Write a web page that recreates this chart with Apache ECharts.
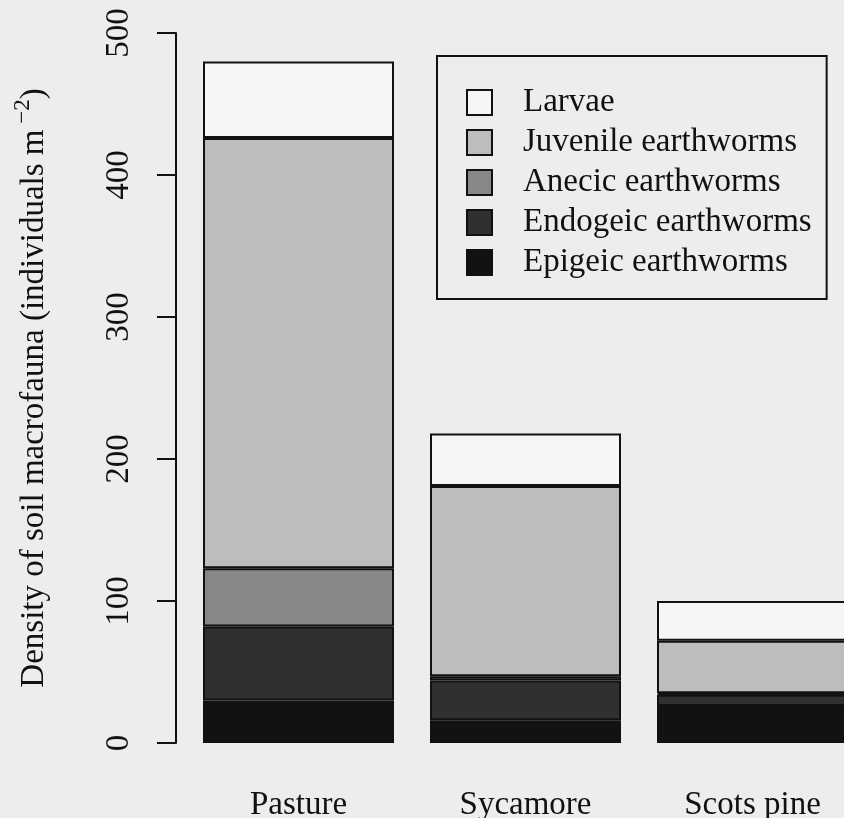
<!DOCTYPE html>
<html>
<head>
<meta charset="utf-8">
<title>Soil macrofauna density</title>
<script src="https://cdn.jsdelivr.net/npm/echarts@6/dist/echarts.min.js"></script>
<style>
  html, body { margin: 0; padding: 0; background: #ededed; }
  #chart { width: 844px; height: 818px; }
</style>
</head>
<body>
<div id="chart"></div>
<script>
// Land-use categories along the x axis
const categories = ['Pasture', 'Sycamore', 'Scots pine'];

// Density of each group (individuals per m²), stacked bottom to top
const epigeic   = [30, 16, 26];
const endogeic  = [52, 28, 8];
const anecic    = [41, 3, 1];
const juvenile  = [303, 134, 37];
const larvae    = [54, 37, 28];

const yTicks = [0, 100, 200, 300, 400, 500];

const FONT = '"Liberation Serif", "Times New Roman", Times, serif';
const INK = '#111111';

const groups = [
  { name: 'Epigeic earthworms',  data: epigeic,  color: '#121212' },
  { name: 'Endogeic earthworms', data: endogeic, color: '#303030' },
  { name: 'Anecic earthworms',   data: anecic,   color: '#878787' },
  { name: 'Juvenile earthworms', data: juvenile, color: '#bdbdbd' },
  { name: 'Larvae',              data: larvae,   color: '#f6f6f6' }
];

const chart = echarts.init(document.getElementById('chart'), null, { renderer: 'canvas' });

chart.setOption({
  animation: false,
  backgroundColor: '#ededed',
  textStyle: { fontFamily: FONT, color: INK },
  grid: {
    left: 185, top: 33, width: 681, height: 710,
    containLabel: false, outerBoundsMode: 'none'
  },
  legend: {
    orient: 'vertical',
    left: 437, top: 56,
    data: groups.map(g => g.name).reverse(),
    icon: 'rect',
    itemWidth: 25, itemHeight: 25,
    itemGap: 7,
    padding: [30, 15, 20, 29],
    borderColor: INK, borderWidth: 2,
    backgroundColor: 'transparent',
    selectedMode: false,
    itemStyle: { borderColor: INK, borderWidth: 2 },
    textStyle: {
      fontFamily: FONT, fontSize: 33, color: INK,
      lineHeight: 33, padding: [0, 0, 0, 26]
    }
  },
  xAxis: {
    type: 'category',
    data: categories,
    boundaryGap: true,
    axisLine: { show: false },
    axisTick: { show: false },
    axisLabel: { fontFamily: FONT, fontSize: 33, color: INK, margin: 46, interval: 0 }
  },
  yAxis: {
    type: 'value',
    min: yTicks[0], max: yTicks[yTicks.length - 1], interval: 100,
    offset: 9,
    splitLine: { show: false },
    axisLine: { show: true, lineStyle: { color: INK, width: 2 } },
    axisTick: { show: true, inside: false, length: 19, lineStyle: { color: INK, width: 2 } },
    axisLabel: {
      fontFamily: FONT, fontSize: 33, color: INK, rotate: 90, margin: 40,
      formatter: v => (yTicks.indexOf(v) >= 0 ? String(v) : '')
    },
    name: '{t|Density of soil macrofauna (individuals m}{s| −2}{t|)}',
    nameLocation: 'middle',
    nameRotate: 90,
    nameGap: 125,
    nameMoveOverlap: false,
    nameTextStyle: {
      fontFamily: FONT, color: INK,
      rich: {
        t: { fontFamily: FONT, fontSize: 33, color: INK, lineHeight: 40, verticalAlign: 'bottom' },
        s: { fontFamily: FONT, fontSize: 23, color: INK, lineHeight: 40, verticalAlign: 'top' }
      }
    }
  },
  series: groups.map(g => ({
    name: g.name,
    type: 'bar',
    stack: 'total',
    data: g.data,
    barWidth: 191,
    itemStyle: { color: g.color, borderColor: INK, borderWidth: 2 },
    emphasis: { disabled: true }
  }))
});
</script>
</body>
</html>
